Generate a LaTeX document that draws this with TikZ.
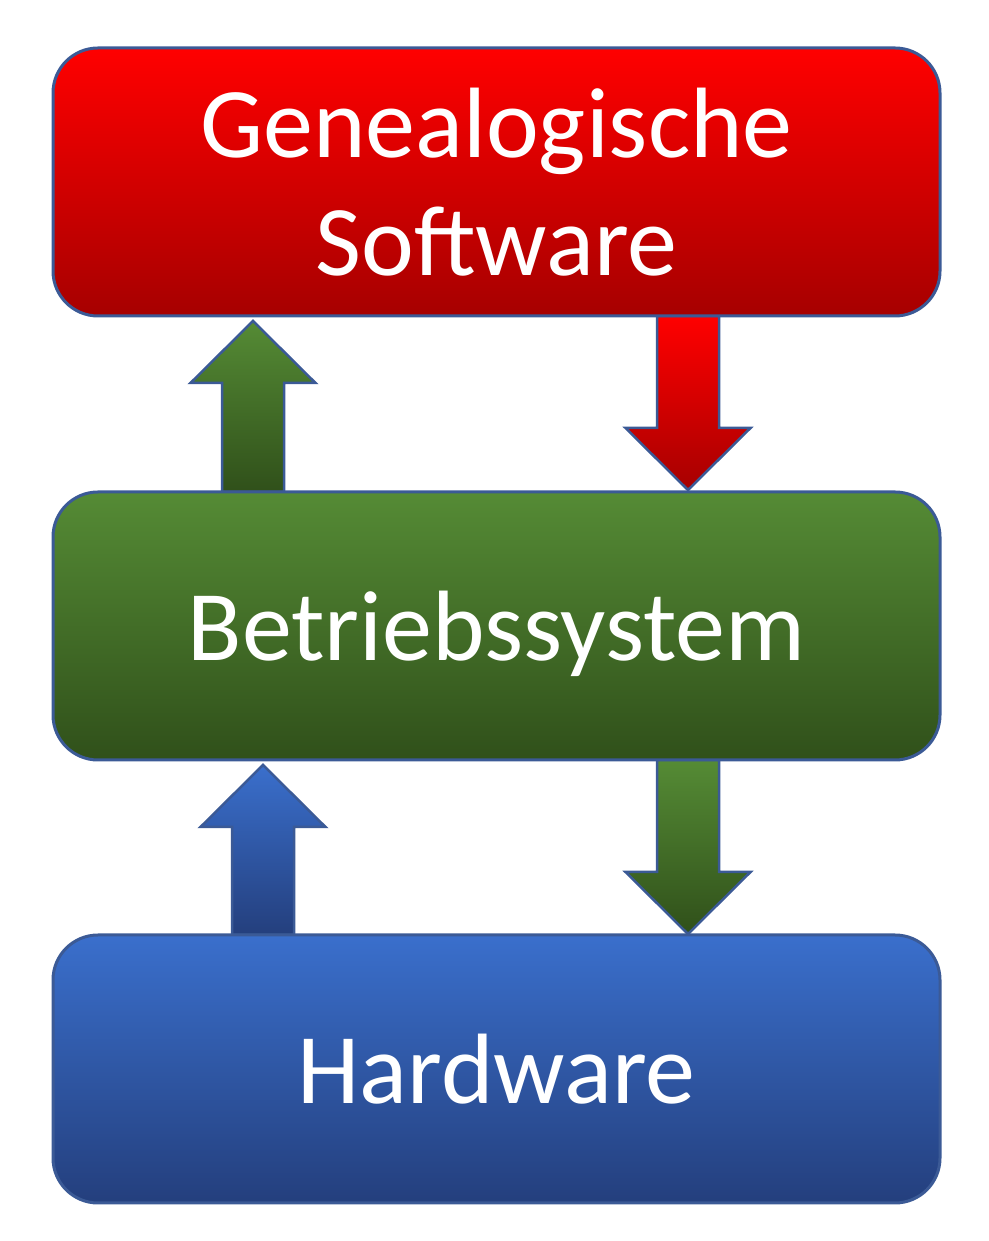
\documentclass[tikz,border=0pt]{standalone}
\usepackage{fontspec}
\setmainfont{Carlito}
\usepackage{tikz}

\definecolor{rimblue}{HTML}{3B5A96}
\definecolor{redtop}{HTML}{FF0000}
\definecolor{redbot}{HTML}{A60000}
\definecolor{greentop}{HTML}{558B35}
\definecolor{greenbot}{HTML}{30501A}
\definecolor{bluetop}{HTML}{3A6FCC}
\definecolor{bluebot}{HTML}{243F7D}

\tikzset{
  layer/.style={draw=rimblue,line width=3pt,rounded corners=45pt,outer sep=0pt,
    minimum width=887pt,minimum height=268pt,text=white,align=center,
    font=\fontsize{100}{118}\selectfont},
  blockarrow/.style={draw=rimblue,line width=2.5pt,line join=miter}
}

\begin{document}
\begin{tikzpicture}[x=1pt,y=1pt]
  \useasboundingbox (0,0) rectangle (988,1241);
  % arrows first, the layers go on top
  \coordinate (gup) at (222,749);   \coordinate (rdown) at (657,925);
  \coordinate (bup) at (232,306);   \coordinate (gdown) at (657,481);
  \draw[blockarrow,top color=greentop,bottom color=greenbot] (gup) -- ++(0,109) -- ++(-31.5,0) -- ++(62.5,62) -- ++(62.5,-62) -- ++(-31.5,0) -- ++(0,-109) -- cycle;
  \draw[blockarrow,top color=redtop,bottom color=redbot] (rdown) -- ++(0,-112) -- ++(-31.5,0) -- ++(62.5,-62) -- ++(62.5,62) -- ++(-31.5,0) -- ++(0,112) -- cycle;
  \draw[blockarrow,top color=bluetop,bottom color=bluebot] (bup) -- ++(0,108) -- ++(-31.5,0) -- ++(62.5,62) -- ++(62.5,-62) -- ++(-31.5,0) -- ++(0,-108) -- cycle;
  \draw[blockarrow,top color=greentop,bottom color=greenbot] (gdown) -- ++(0,-112) -- ++(-31.5,0) -- ++(62.5,-62) -- ++(62.5,62) -- ++(-31.5,0) -- ++(0,112) -- cycle;

  \node[layer,top color=redtop,bottom color=redbot] (soft) at (496.5,1059) {Genealogische\\Software};
  \node[layer,top color=greentop,bottom color=greenbot,text depth=0pt] (os) at (496.5,615) {Betriebssystem};
  \node[layer,top color=bluetop,bottom color=bluebot] (hw) at (496.5,172) {Hardware};
\end{tikzpicture}
\end{document}
